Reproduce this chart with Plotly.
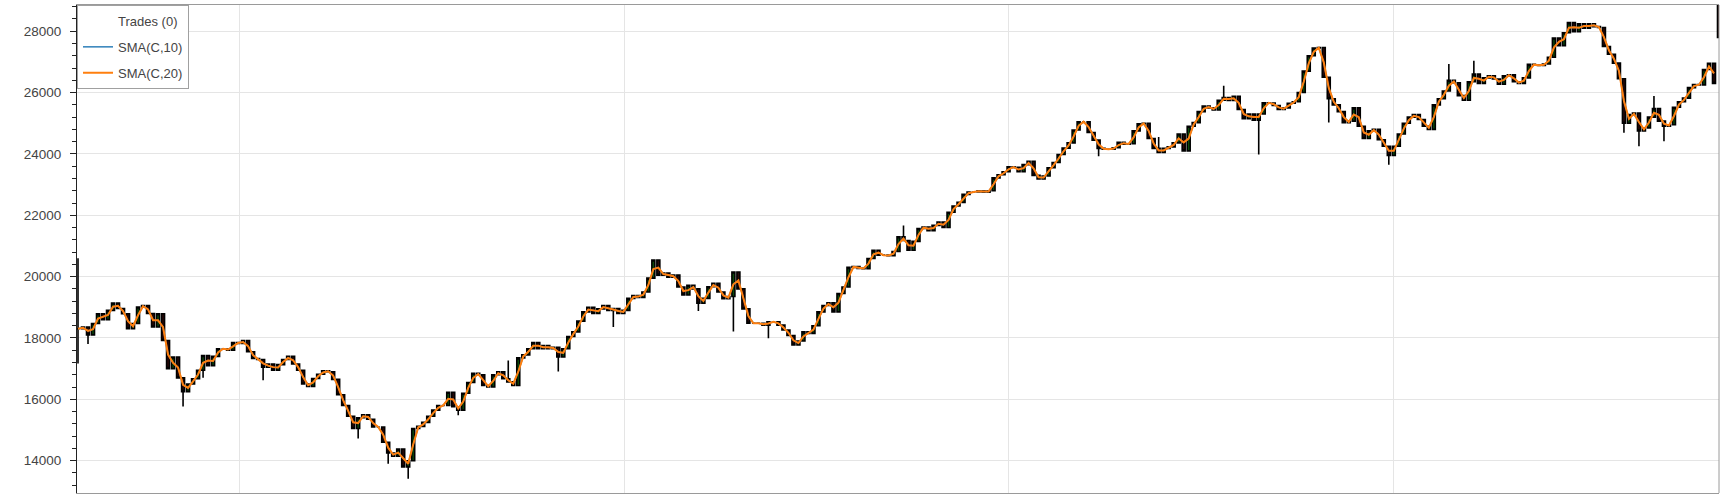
import plotly.graph_objects as go
import pandas as pd

# Close values (one bar every ~5 px)
close = [
    18300, 18360, 18100, 18470, 18790, 18600, 18900, 19140, 18960, 18790,
    18300, 18470, 19010, 19060, 18800, 18360, 18790, 17920, 17000, 17380,
    16700, 16250, 16500, 16670, 16950, 17430, 17100, 17400, 17650, 17650,
    17600, 17850, 17820, 17920, 17550, 17330, 17300, 17050, 17150, 16950,
    17130, 17300, 17400, 17150, 16950, 16500, 16420, 16680, 16820, 16930,
    16900, 16650, 16150, 15800, 15450, 15050, 15400, 15500, 15350, 15100,
    15100, 14600, 14250, 14150, 14380, 13800, 14000, 15050, 15120, 15250,
    15450, 15650, 15800, 15800, 16230, 15760, 15650, 16200, 16550, 16850,
    16800, 16450, 16400, 16800, 16900, 16670, 16570, 16450, 17350, 17450,
    17650, 17850, 17650, 17750, 17650, 17700, 17380, 17650, 18050, 18200,
    18550, 18850, 19000, 18800, 18950, 19060, 18900, 18960, 18800, 18900,
    19290, 19380, 19320, 19500, 19950, 20540, 20050, 20120, 19980, 20050,
    19660, 19400, 19720, 19600, 19130, 19290, 19670, 19780, 19500, 19280,
    19350, 20150, 19600, 18950, 18480, 18480, 18480, 18420, 18530, 18530,
    18420, 18260, 18080, 17770, 17900, 18200, 18150, 18400, 18850, 19060,
    19150, 18850, 19450, 19660, 20300, 20330, 20270, 20260, 20590, 20860,
    20700, 20700, 20680, 20820, 21300, 21180, 20860, 21150, 21570, 21620,
    21500, 21670, 21780, 21600, 22100, 22300, 22420, 22680, 22760, 22760,
    22800, 22750, 22800, 23220, 23320, 23420, 23580, 23560, 23420, 23650,
    23760, 23300, 23180, 23280, 23550, 23720, 23980, 24190, 24360, 24780,
    25050, 25050, 24700, 24450, 24180, 24150, 24150, 24200, 24380, 24320,
    24330, 24750, 24980, 25000, 24500, 24180, 24050, 24180, 24230, 24360,
    24650, 24100, 24900, 25020, 25380, 25560, 25500, 25430, 25750, 25840,
    25740, 25880, 25450, 25150, 25300, 25100, 25300, 25670, 25660, 25580,
    25450, 25500, 25650, 25700, 26000, 26700, 27200, 27450, 27470, 26500,
    25800, 25600, 25380, 25020, 25070, 25500, 24900, 24500, 24750, 24800,
    24460, 24250, 23950, 24250, 24650, 25000, 25200, 25280, 25120, 24900,
    24800, 25600, 25800, 26050, 26400, 26320, 25900, 25750, 26350, 26600,
    26300, 26480, 26550, 26440, 26270, 26550, 26580, 26350, 26300, 26480,
    26920, 26900, 26880, 26930, 27150, 27780, 27530, 27950, 28280, 27980,
    28240, 28100, 28240, 28150, 28120, 27500, 27250, 26960, 26450, 25000,
    25280, 25330, 24750, 24850, 25200, 25480, 25070, 24900, 24950, 25520,
    25700, 25820, 26160, 26260, 26250, 26750, 26950, 26300,
]

# Long wicks: bar index and the wick end value
spike_idx = [0, 0, 2, 21, 25, 37, 56, 62, 66, 76, 86, 96, 107, 124, 131,
             138, 165, 204, 216, 229, 236, 250, 262, 274, 279, 309, 312,
             315, 317]
spike_val = [20600, 17170, 17800, 15770, 16700, 16620, 14720, 13900, 13415,
             15480, 17270, 16910, 18360, 18880, 18210, 17990, 21670, 23920,
             24550, 26220, 23980, 25020, 23650, 26930, 27040, 24690, 24250,
             25890, 24410]

# Last (partly clipped) bar at the right edge: open, high, low, close
edge_bar = [29500, 29500, 27800, 27800]

# Vertical grid positions (bar index)
x_grid = [32.2, 109.3, 185.9, 262.9]

legend_names = ["Trades (0)", "SMA(C,10)", "SMA(C,20)"]

n = len(close)
o = [close[0]] + close[:-1]
h = [max(a, b) for a, b in zip(o, close)]
l = [min(a, b) for a, b in zip(o, close)]
for i, v in zip(spike_idx, spike_val):
    h[i] = max(h[i], v)
    l[i] = min(l[i], v)

xs = list(range(n + 1))
o_all = o + [edge_bar[0]]
h_all = h + [edge_bar[1]]
l_all = l + [edge_bar[2]]
c_all = close + [edge_bar[3]]

s = pd.Series(close)
sma10 = s.rolling(2, min_periods=1).mean()
sma20 = s.rolling(2, min_periods=1).mean()

fig = go.Figure()
fig.add_trace(go.Candlestick(
    x=xs, open=o_all, high=h_all, low=l_all, close=c_all,
    increasing=dict(line=dict(color="black", width=1.6), fillcolor="#0a4a0a"),
    decreasing=dict(line=dict(color="black", width=1.6), fillcolor="#2a0808"),
    showlegend=False, hoverinfo="skip",
))
fig.add_trace(go.Scatter(
    x=[None], y=[None], mode="markers", name=legend_names[0],
    marker=dict(color="rgba(0,0,0,0)", size=1), legendgroup="a",
))
fig.add_trace(go.Scatter(
    x=list(range(n)), y=sma10, mode="lines", name=legend_names[1],
    line=dict(color="#1f77b4", width=1.4), legendgroup="b",
))
fig.add_trace(go.Scatter(
    x=list(range(n)), y=sma20, mode="lines", name=legend_names[2],
    line=dict(color="#ff7f0e", width=2), legendgroup="c",
))

font = "Liberation Sans, Arial, sans-serif"
fig.update_layout(
    width=1731, height=500,
    margin=dict(l=77, r=12, t=5, b=7),
    paper_bgcolor="white", plot_bgcolor="white",
    showlegend=True,
    boxgap=0.15,
    legend=dict(
        x=0, y=1, xanchor="left", yanchor="top",
        bgcolor="white", bordercolor="#a0a0a0", borderwidth=1,
        font=dict(family=font, size=13, color="#444"),
        tracegroupgap=6,
    ),
    xaxis=dict(
        range=[-0.2, 328.0], tickvals=x_grid, showticklabels=False,
        ticks="", showgrid=True, gridcolor="#e5e5e5", zeroline=False,
        showline=True, mirror=True, linecolor="#9a9a9a", linewidth=1,
        rangeslider=dict(visible=False),
    ),
    yaxis=dict(
        range=[12947, 28854], dtick=2000, tick0=0, tickformat="d",
        showgrid=True, gridcolor="#e5e5e5", zeroline=False,
        showline=True, linecolor="#222", linewidth=1,
        ticks="outside", ticklen=6, tickcolor="#222", tickwidth=1,
        tickfont=dict(family=font, size=13.5, color="#444"),
        ticklabelstandoff=6,
        minor=dict(ticks="outside", ticklen=4, dtick=400, tickcolor="#222",
                   showgrid=False),
    ),
    shapes=[dict(type="line", xref="paper", yref="paper", x0=1, y0=0,
                 x1=1, y1=1, line=dict(color="#9a9a9a", width=1))],
)

fig.write_html("out.html", config={"displayModeBar": False},
               post_script="document.body.style.margin='0';")
